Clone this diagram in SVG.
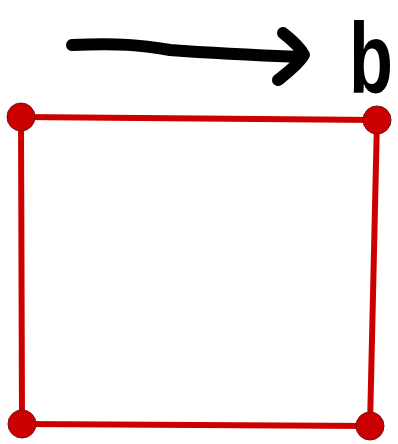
<svg xmlns="http://www.w3.org/2000/svg" width="398" height="444" viewBox="0 0 398 444">
<style>
.edge{fill:none;stroke:#cc0000;stroke-width:6;stroke-linecap:round;stroke-linejoin:round}
.dot{fill:#cc0000;stroke:#7a1010;stroke-width:1}
.ink{fill:none;stroke:#000;stroke-width:12;stroke-linecap:round;stroke-linejoin:round}
.lbl{font-family:"Liberation Sans",Arial,sans-serif;font-size:100px;fill:#000}
</style>
<rect width="398" height="444" fill="#fff"/>
<g id="connectors">
<path class="edge" d="M21,117 L377,120"/>
<path class="edge" d="M377,120 L370,426"/>
<path class="edge" d="M370,426 L22,424"/>
<path class="edge" d="M22,424 L21,117"/>
<path class="ink" d="M72,45 C120,43 140,45 170,50 C210,53 250,55 302,57"/>
<path class="ink" d="M283,33 C292,40 300,47 304,55 C298,65 288,72 278,80"/>
</g>
<g id="node-tl"><circle class="dot" cx="21" cy="117" r="14"/></g>
<g id="node-tr"><circle class="dot" cx="377" cy="120" r="14"/></g>
<g id="node-bl"><circle class="dot" cx="22" cy="424" r="14"/></g>
<g id="node-br"><circle class="dot" cx="370" cy="426" r="14"/></g>
<g id="label-b"><text class="lbl" transform="translate(349,93) scale(0.72,1)" font-weight="bold">b</text></g>
</svg>
